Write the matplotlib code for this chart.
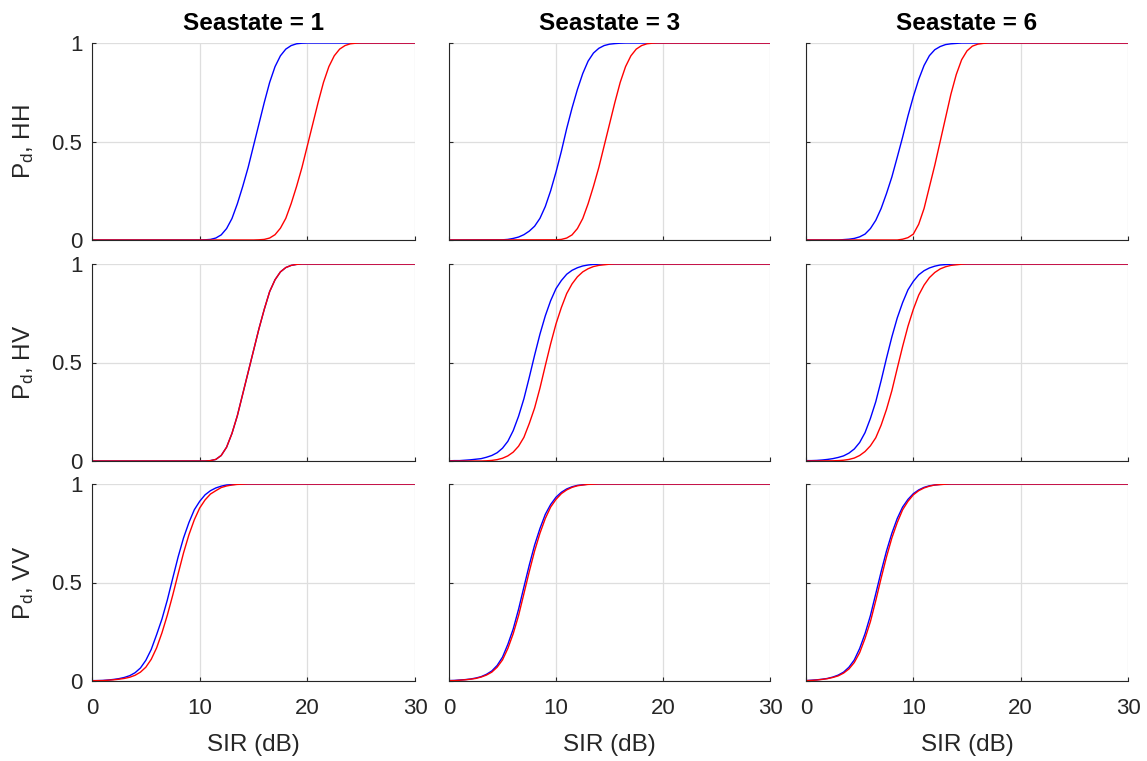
import matplotlib
matplotlib.use('Agg')
import matplotlib.pyplot as plt

plt.rcParams['font.family'] = ['Liberation Sans', 'DejaVu Sans']
plt.rcParams['mathtext.default'] = 'regular'

# Pd on a 0.5 dB grid; each list starts at the given SIR,
# below it Pd is 0 and after its last value Pd stays at 1
seastates = [1, 3, 6]
pols = ['HH', 'HV', 'VV']
sir_step = 0.5

hh_ss1_blue = (10.0, [0.000, 0.001, 0.003, 0.010, 0.026, 0.058, 0.109, 0.184, 0.272, 0.368, 0.478,
                      0.588, 0.698, 0.800, 0.880, 0.935, 0.969, 0.987, 0.996, 0.999, 1.0])
hh_ss1_red = (15.0, [0.000, 0.001, 0.003, 0.010, 0.027, 0.060, 0.110, 0.185, 0.272, 0.368, 0.478,
                     0.588, 0.698, 0.800, 0.880, 0.935, 0.969, 0.987, 0.996, 0.999, 1.0])
hh_ss3_blue = (5.0, [0.001, 0.003, 0.008, 0.015, 0.027, 0.045, 0.070, 0.110, 0.170, 0.250, 0.345, 0.450,
                     0.566, 0.670, 0.764, 0.845, 0.908, 0.949, 0.973, 0.987, 0.994, 0.997, 0.999, 1.0])
hh_ss3_red = (10.0, [0.001, 0.003, 0.010, 0.026, 0.058, 0.109, 0.184, 0.272, 0.368, 0.478,
                     0.588, 0.698, 0.800, 0.880, 0.935, 0.969, 0.987, 0.996, 0.999, 1.0])
hh_ss6_blue = (3.0, [0.000, 0.002, 0.004, 0.008, 0.016, 0.030, 0.058, 0.100, 0.160, 0.236, 0.320, 0.420,
                     0.522, 0.630, 0.728, 0.815, 0.886, 0.936, 0.966, 0.982, 0.992, 0.996, 0.998, 1.0])
hh_ss6_red = (8.5, [0.000, 0.004, 0.012, 0.030, 0.080, 0.160, 0.270, 0.380, 0.500, 0.620, 0.740,
                    0.840, 0.915, 0.960, 0.984, 0.994, 0.998, 1.0])

hv_ss1_blue = (10.5, [0.000, 0.002, 0.008, 0.028, 0.070, 0.140, 0.230, 0.340, 0.450, 0.560, 0.670,
                      0.770, 0.860, 0.920, 0.960, 0.982, 0.993, 0.998, 1.0])
hv_ss1_red = (10.5, [0.000, 0.002, 0.008, 0.028, 0.070, 0.140, 0.230, 0.340, 0.450, 0.560, 0.670,
                     0.770, 0.860, 0.920, 0.960, 0.982, 0.993, 0.998, 1.0])
hv_ss3_blue = (0.0, [0.001, 0.002, 0.002, 0.004, 0.006, 0.009, 0.012, 0.019, 0.028, 0.042, 0.065, 0.100,
                     0.154, 0.227, 0.316, 0.424, 0.537, 0.644, 0.737, 0.814, 0.875, 0.916, 0.948, 0.968,
                     0.981, 0.990, 0.995, 0.998, 0.999, 1.0])
hv_ss3_red = (3.0, [0.000, 0.001, 0.003, 0.007, 0.014, 0.026, 0.045, 0.075, 0.120, 0.190, 0.269, 0.370,
                    0.484, 0.595, 0.696, 0.779, 0.850, 0.899, 0.935, 0.960, 0.976, 0.987, 0.993, 0.996,
                    0.999, 1.0])
hv_ss6_blue = (0.0, [0.002, 0.002, 0.003, 0.005, 0.008, 0.012, 0.018, 0.026, 0.040, 0.061, 0.094, 0.144,
                     0.216, 0.301, 0.408, 0.522, 0.630, 0.726, 0.804, 0.869, 0.912, 0.945, 0.966, 0.980,
                     0.989, 0.995, 0.997, 0.999, 1.0])
hv_ss6_red = (2.5, [0.001, 0.002, 0.004, 0.008, 0.015, 0.028, 0.048, 0.077, 0.118, 0.182, 0.262, 0.357,
                    0.470, 0.581, 0.684, 0.770, 0.842, 0.893, 0.931, 0.957, 0.975, 0.986, 0.993, 0.996,
                    0.999, 1.0])

vv_ss1_blue = (0.0, [0.002, 0.002, 0.003, 0.005, 0.008, 0.012, 0.018, 0.027, 0.042, 0.066, 0.105, 0.160,
                     0.235, 0.315, 0.412, 0.522, 0.630, 0.726, 0.804, 0.869, 0.912, 0.945, 0.966, 0.980,
                     0.989, 0.995, 0.997, 0.999, 1.0])
vv_ss1_red = (0.0, [0.001, 0.002, 0.002, 0.004, 0.006, 0.009, 0.013, 0.019, 0.029, 0.045, 0.070, 0.110,
                    0.168, 0.245, 0.335, 0.436, 0.544, 0.650, 0.742, 0.818, 0.878, 0.919, 0.949, 0.966,
                    0.982, 0.990, 0.995, 0.998, 0.999, 1.0])
vv_ss3_blue = (0.0, [0.002, 0.003, 0.005, 0.007, 0.010, 0.015, 0.022, 0.034, 0.051, 0.079, 0.121, 0.186,
                     0.264, 0.364, 0.477, 0.588, 0.690, 0.774, 0.846, 0.896, 0.933, 0.958, 0.975, 0.986,
                     0.993, 0.996, 0.999, 1.0])
vv_ss3_red = (0.0, [0.002, 0.002, 0.004, 0.006, 0.009, 0.013, 0.020, 0.030, 0.045, 0.070, 0.107, 0.165,
                    0.240, 0.332, 0.443, 0.555, 0.660, 0.750, 0.825, 0.883, 0.922, 0.951, 0.970, 0.983,
                    0.991, 0.995, 0.998, 0.999, 1.0])
vv_ss6_blue = (0.0, [0.002, 0.004, 0.006, 0.009, 0.013, 0.020, 0.030, 0.045, 0.070, 0.107, 0.165, 0.240,
                     0.332, 0.443, 0.555, 0.660, 0.750, 0.825, 0.883, 0.922, 0.951, 0.970, 0.983, 0.991,
                     0.995, 0.998, 0.999, 1.0])
vv_ss6_red = (0.0, [0.002, 0.003, 0.005, 0.008, 0.012, 0.018, 0.026, 0.040, 0.061, 0.094, 0.144, 0.216,
                    0.301, 0.408, 0.522, 0.630, 0.726, 0.804, 0.869, 0.912, 0.945, 0.966, 0.980, 0.989,
                    0.995, 0.997, 0.999, 1.0])

curves = {
    (0, 0): (hh_ss1_blue, hh_ss1_red), (0, 1): (hh_ss3_blue, hh_ss3_red), (0, 2): (hh_ss6_blue, hh_ss6_red),
    (1, 0): (hv_ss1_blue, hv_ss1_red), (1, 1): (hv_ss3_blue, hv_ss3_red), (1, 2): (hv_ss6_blue, hv_ss6_red),
    (2, 0): (vv_ss1_blue, vv_ss1_red), (2, 1): (vv_ss3_blue, vv_ss3_red), (2, 2): (vv_ss6_blue, vv_ss6_red),
}


def full_curve(curve):
    start, vals = curve
    x = [start + sir_step * i for i in range(len(vals))]
    y = list(vals)
    if start > 0:
        x = [0.0] + x
        y = [0.0] + y
    x.append(30.0)
    y.append(1.0)
    return x, y


W, H = 1147, 761
fig = plt.figure(figsize=(W / 100, H / 100), dpi=100)

col_px = [(92, 415), (449, 770), (806, 1128)]
row_px = [(43, 240), (264, 461), (484, 681)]
text_col = '#262626'

for r in range(3):
    for c in range(3):
        x0, x1 = col_px[c]
        y0, y1 = row_px[r]
        ax = fig.add_axes([x0 / W, 1 - y1 / H, (x1 - x0) / W, (y1 - y0) / H])
        blue, red = curves[(r, c)]
        bx, by = full_curve(blue)
        rx, ry = full_curve(red)
        ax.plot(bx, by, color='#0000ff', lw=1.0)
        ax.plot(rx, ry, color='#ff0000', lw=1.0)

        ax.set_xlim(0, 30)
        ax.set_ylim(0, 1)
        ax.set_xticks([0, 10, 20, 30])
        ax.set_yticks([0, 0.5, 1])
        ax.set_yticklabels(['0', '0.5', '1'])
        ax.grid(True, color='#dedede', lw=0.9)
        ax.set_axisbelow(True)
        for s in ['top', 'right']:
            ax.spines[s].set_visible(False)
        for s in ['left', 'bottom']:
            ax.spines[s].set_color(text_col)
            ax.spines[s].set_linewidth(0.8)
        ax.tick_params(direction='in', length=3, width=0.8, colors=text_col,
                       labelsize=16, labelcolor=text_col)
        ax.tick_params(axis='x', pad=12)
        ax.tick_params(axis='y', pad=7)
        if r < 2:
            ax.set_xticklabels([])
        else:
            ax.set_xlabel('SIR (dB)', fontsize=17.5, color=text_col, labelpad=11)
        if c > 0:
            ax.set_yticklabels([])
        else:
            ax.set_ylabel('$P_d$, ' + pols[r], fontsize=17.5, color=text_col)
            ax.yaxis.set_label_coords(-0.172, 0.5)
        if r == 0:
            ax.set_title('Seastate = %d' % seastates[c], fontsize=17.5,
                         fontweight='bold', color='black', pad=9)

fig.savefig('out.png', dpi=100)
